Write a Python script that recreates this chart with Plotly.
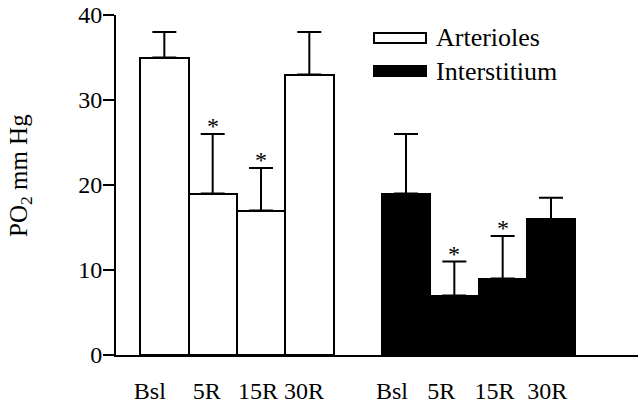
import plotly.graph_objects as go

# PO2 (mm Hg) at baseline and 5, 15, 30 min of reperfusion
time_labels = ["Bsl", "5R", "15R", "30R"]
arterioles = [35, 19, 17, 33]
arterioles_err = [3, 7, 5, 5]
interstitium = [19, 7, 9, 16]
interstitium_err = [7, 4, 5, 2.5]
significant = [False, True, True, False]

# bar slots: two groups of four with one empty slot between them
art_x = [0, 1, 2, 3]
int_x = [5, 6, 7, 8]
label_nudge = [-0.3, -0.12, -0.06, -0.11]
int_label_nudge = [-0.29, -0.27, -0.17, -0.08]

FONT = "Liberation Serif, DejaVu Serif, serif"

fig = go.Figure()
fig.add_trace(go.Bar(
    x=art_x, y=arterioles, width=1, name="Arterioles",
    marker=dict(color="white", line=dict(color="black", width=2)),
    error_y=dict(type="data", array=arterioles_err, arrayminus=[0] * 4,
                 symmetric=False, color="black", thickness=2, width=12),
    showlegend=False,
))
fig.add_trace(go.Bar(
    x=int_x, y=interstitium, width=1, name="Interstitium",
    marker=dict(color="black", line=dict(color="black", width=2)),
    error_y=dict(type="data", array=interstitium_err, arrayminus=[0] * 4,
                 symmetric=False, color="black", thickness=2, width=12),
    showlegend=False,
))

# significance markers above the error caps
for xs, vals, errs in [(art_x, arterioles, arterioles_err),
                       (int_x, interstitium, interstitium_err)]:
    for x, v, e, s in zip(xs, vals, errs, significant):
        if s:
            fig.add_annotation(x=x, y=v + e, text="*", showarrow=False,
                               xanchor="center", yanchor="bottom", yshift=-7,
                               font=dict(family=FONT, size=24, color="black"))

tickvals = [x + d for x, d in zip(art_x, label_nudge)] + \
           [x + d for x, d in zip(int_x, int_label_nudge)]
ticktext = time_labels + time_labels

L, R, T, B = 116, 2, 15, 47
W, H = 640, 402
pw, ph = W - L - R, H - T - B


def px(xp):
    return (xp - L) / pw


def py(yp):
    return (H - B - yp) / ph


# hand-drawn legend: wide swatches with labels
legend_items = [("Arterioles", "white", 38), ("Interstitium", "black", 71)]
for name, fill, yc in legend_items:
    fig.add_shape(type="rect", xref="paper", yref="paper",
                  x0=px(374), x1=px(426), y0=py(yc + 5), y1=py(yc - 5),
                  fillcolor=fill, line=dict(color="black", width=2))
    fig.add_annotation(xref="paper", yref="paper", x=px(434), y=py(yc),
                       text=name, showarrow=False, xanchor="left",
                       yanchor="middle",
                       font=dict(family=FONT, size=26, color="black"))

fig.add_annotation(xref="paper", yref="paper", x=px(20), y=py(176),
                   text="PO<sub>2</sub> mm Hg", textangle=-90, showarrow=False,
                   xanchor="center", yanchor="middle",
                   font=dict(family=FONT, size=25, color="black"))

fig.update_layout(
    width=W, height=H,
    margin=dict(l=L, r=R, t=T, b=B, pad=0),
    paper_bgcolor="white", plot_bgcolor="white",
    bargap=0, barmode="overlay",
    font=dict(family=FONT, size=24, color="black"),
    xaxis=dict(range=[-1.0, 9.8], tickvals=tickvals, ticktext=ticktext,
               showgrid=False, zeroline=False, showline=True,
               linecolor="black", linewidth=2, ticks="", tickangle=0,
               automargin=False, ticklabelstandoff=13, fixedrange=True),
    yaxis=dict(range=[0, 40], tickvals=[0, 10, 20, 30, 40],
               showgrid=False, zeroline=False, showline=True,
               linecolor="black", linewidth=2, ticks="outside",
               ticklen=11, tickwidth=2, tickcolor="black", automargin=False,
               ticklabelstandoff=-4, fixedrange=True),
)

fig.write_html("out.html")
